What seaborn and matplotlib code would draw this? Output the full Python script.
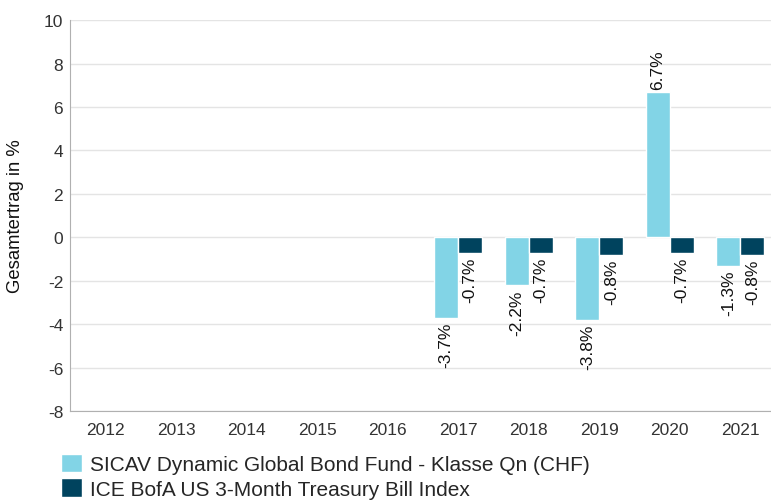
import numpy as np
import pandas as pd
import matplotlib
matplotlib.use("Agg")
import matplotlib.pyplot as plt
import seaborn as sns

years = ["2012", "2013", "2014", "2015", "2016", "2017", "2018", "2019", "2020", "2021"]
fund_name = "SICAV Dynamic Global Bond Fund - Klasse Qn (CHF)"
index_name = "ICE BofA US 3-Month Treasury Bill Index"
fund_values = [np.nan, np.nan, np.nan, np.nan, np.nan, -3.7, -2.2, -3.8, 6.7, -1.3]
index_values = [np.nan, np.nan, np.nan, np.nan, np.nan, -0.7, -0.7, -0.8, -0.7, -0.8]
y_ticks = [-8, -6, -4, -2, 0, 2, 4, 6, 8, 10]

df = pd.DataFrame({
    "year": years * 2,
    "series": [fund_name] * len(years) + [index_name] * len(years),
    "value": fund_values + index_values,
})

sns.set_style("white")
plt.rcParams['font.family'] = ['Liberation Sans', 'DejaVu Sans']

fig = plt.figure(figsize=(7.71, 5.02), dpi=100)
ax = fig.add_axes([0.091, 0.179, 0.915, 0.779])

palette = {fund_name: "#82d4e6", index_name: "#00435e"}
sns.barplot(data=df, x="year", y="value", hue="series", order=years,
            hue_order=[fund_name, index_name], palette=palette,
            width=0.68, saturation=1, dodge=True, ax=ax, legend=True)

for p in ax.patches:
    h = p.get_height()
    if h is None or np.isnan(h) or p.get_width() == 0:
        continue
    x = p.get_x() + p.get_width() / 2
    if h >= 0:
        ax.annotate(f"{h:.1f}%", (x, h), xytext=(0, 2), textcoords="offset points",
                    rotation=90, ha="center", va="bottom", fontsize=12.5, color="#111")
    else:
        ax.annotate(f"{h:.1f}%", (x, h), xytext=(0, -3), textcoords="offset points",
                    rotation=90, ha="center", va="top", fontsize=12.5, color="#111")

ax.set_ylim(-8, 10)
ax.set_yticks(y_ticks)
ax.set_yticklabels([str(t) for t in y_ticks])
ax.grid(axis="y", color="#e4e4e4", linewidth=1)
ax.set_axisbelow(True)
ax.tick_params(axis="both", length=0, labelsize=12.5, colors="#333333")
ax.tick_params(axis="x", pad=8)
ax.tick_params(axis="y", pad=5)
ax.set_xlabel("")
ax.set_ylabel("Gesamtertrag in %", fontsize=13.3, color="#111", labelpad=14)

for s in ["top", "right"]:
    ax.spines[s].set_visible(False)
ax.spines["left"].set_color("#b0b0b0")
ax.spines["bottom"].set_color("#b0b0b0")

handles, labels = ax.get_legend_handles_labels()
ax.get_legend().remove()
fig.legend(handles, labels, loc="upper left", bbox_to_anchor=(0.079, 0.094),
           frameon=False, fontsize=15, handlelength=1.0, handleheight=1.0,
           handletextpad=0.4, labelspacing=0.2, borderaxespad=0, borderpad=0)

fig.savefig("out.png", dpi=100)
